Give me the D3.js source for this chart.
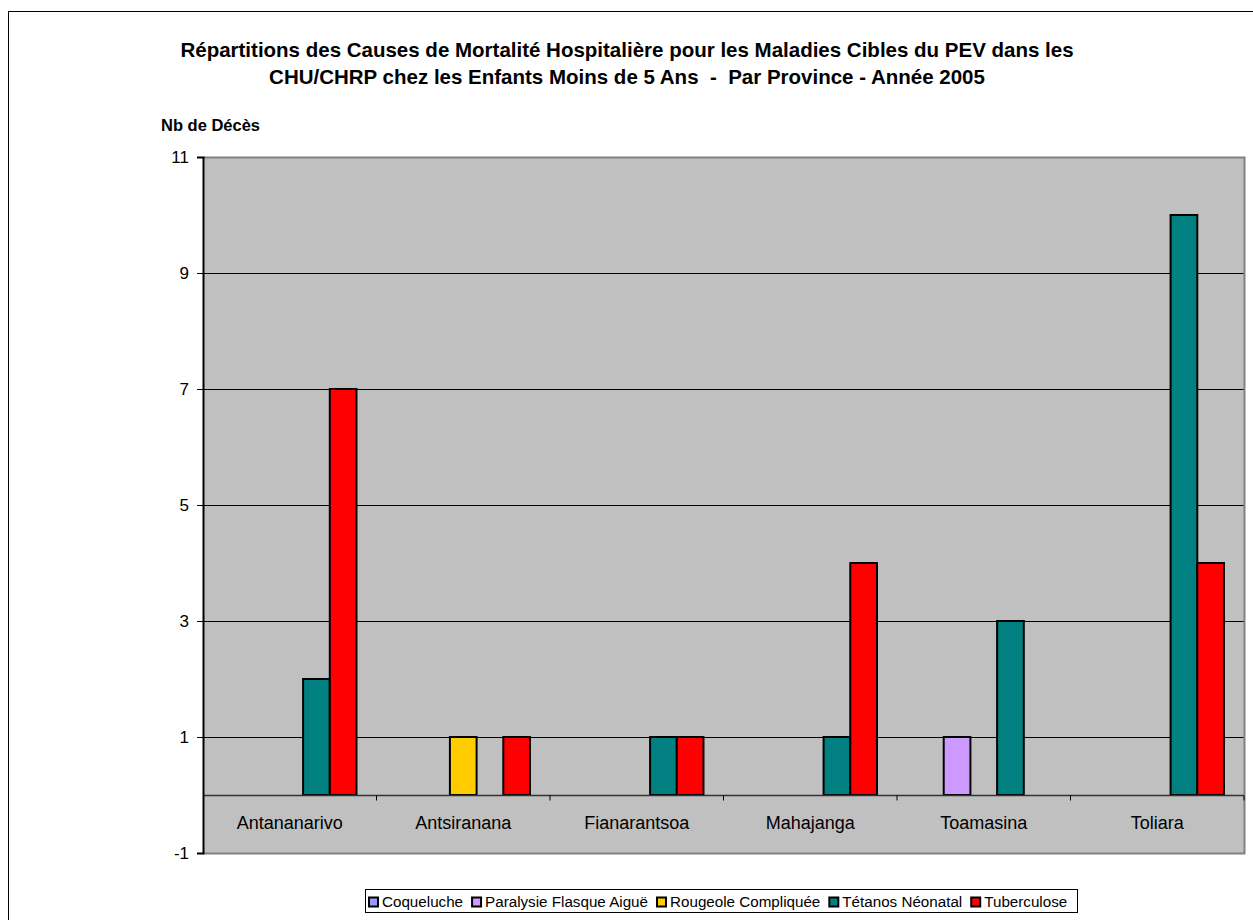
<!DOCTYPE html>
<html>
<head>
<meta charset="utf-8">
<script src="https://cdn.jsdelivr.net/npm/d3@7"></script>
<style>
  body { margin: 0; background: #fff; }
  svg { display: block; font-family: "Liberation Sans", Arial, sans-serif; }
</style>
</head>
<body>
<svg id="chart" width="1253" height="920"></svg>
<script>
const provinces = ["Antananarivo", "Antsiranana", "Fianarantsoa", "Mahajanga", "Toamasina", "Toliara"];
const seriesNames = ["Coqueluche", "Paralysie Flasque Aiguë", "Rougeole Compliquée", "Tétanos Néonatal", "Tuberculose"];
const seriesColors = ["#9999FF", "#CC99FF", "#FFCC00", "#008080", "#FF0000"];
const coqueluche = [0, 0, 0, 0, 0, 0];
const paralysie = [0, 0, 0, 0, 1, 0];
const rougeole = [0, 1, 0, 0, 0, 0];
const tetanos = [2, 0, 1, 1, 3, 10];
const tuberculose = [7, 1, 1, 4, 0, 4];
const yTicks = [-1, 1, 3, 5, 7, 9, 11];
const titleLines = [
  "Répartitions des Causes de Mortalité Hospitalière pour les Maladies Cibles du PEV dans les",
  "CHU/CHRP chez les Enfants Moins de 5 Ans  -  Par Province - Année 2005"
];
const yAxisTitle = "Nb de Décès";

const allSeries = [coqueluche, paralysie, rougeole, tetanos, tuberculose];
const svg = d3.select("#chart");

// outer frame
svg.append("rect").attr("x", 8.5).attr("y", 11.5).attr("width", 1260).attr("height", 930)
  .attr("fill", "none").attr("stroke", "#000").attr("stroke-width", 1);

const L = 203, R = 1244, T = 157, B = 853;
const x0 = d3.scaleBand().domain(provinces).range([L, R]).paddingInner(0).paddingOuter(0);
const x1 = d3.scaleBand().domain(seriesNames).range([0, x0.bandwidth()]).paddingInner(0).paddingOuter(0.75);
const y = d3.scaleLinear().domain([-1, 11]).range([B, T]);

// plot area
svg.append("rect").attr("x", L).attr("y", T).attr("width", R - L).attr("height", B - T)
  .attr("fill", "#C0C0C0");

// gridlines
svg.append("g").selectAll("line").data(yTicks.filter(d => d > -1 && d < 11)).join("line")
  .attr("x1", L).attr("x2", R).attr("y1", d => Math.round(y(d)) + 0.5).attr("y2", d => Math.round(y(d)) + 0.5)
  .attr("stroke", "#000").attr("stroke-width", 1);

// border top/right/bottom gray
svg.append("path")
  .attr("d", `M${L},${T + 0.5}H${R + 0.5}V${B + 0.5}H${L}`)
  .attr("fill", "none").attr("stroke", "#808080").attr("stroke-width", 2);

// bars
const bars = [];
provinces.forEach((p, i) => {
  allSeries.forEach((s, j) => {
    if (s[i] > 0) bars.push({ p, name: seriesNames[j], v: s[i], c: seriesColors[j] });
  });
});
svg.append("g").selectAll("rect").data(bars).join("rect")
  .attr("x", d => x0(d.p) + x1(d.name))
  .attr("y", d => y(d.v))
  .attr("width", x1.bandwidth())
  .attr("height", d => y(0) - y(d.v))
  .attr("fill", d => d.c)
  .attr("stroke", "#000").attr("stroke-width", 2);

// category axis at 0
const xAxis = svg.append("g").attr("transform", `translate(0,${Math.round(y(0)) + 0.5})`);
xAxis.append("line").attr("x1", L).attr("x2", R).attr("stroke", "#333").attr("stroke-width", 1.5);
xAxis.selectAll("line.tk").data(provinces.slice(1).concat(["end"])).join("line").attr("class", "tk")
  .attr("x1", d => d === "end" ? R : x0(d)).attr("x2", d => d === "end" ? R : x0(d))
  .attr("y1", 0).attr("y2", 5).attr("stroke", "#000");
xAxis.selectAll("text").data(provinces).join("text")
  .attr("x", d => x0(d) + x0.bandwidth() / 2).attr("y", 33)
  .attr("text-anchor", "middle").attr("font-size", 18).attr("fill", "#000").text(d => d);

// y axis
const yAxis = svg.append("g").attr("transform", `translate(${L},0)`)
  .call(d3.axisLeft(y).tickValues(yTicks).tickSize(6).tickPadding(8).tickFormat(d => String(d)));
yAxis.select(".domain").attr("stroke", "#000").attr("stroke-width", 2);
yAxis.selectAll(".tick line").attr("stroke", "#000");
yAxis.selectAll(".tick text").attr("font-size", 17).attr("fill", "#000")
  .attr("font-family", "'Liberation Sans', Arial, sans-serif");

// title
svg.append("g").selectAll("text").data(titleLines).join("text")
  .attr("x", 627).attr("y", (d, i) => 57 + i * 27)
  .attr("text-anchor", "middle").attr("font-size", 20.5).attr("font-weight", "bold").attr("fill", "#000")
  .style("white-space", "pre")
  .text(d => d);

svg.append("text").attr("x", 161).attr("y", 131).attr("font-size", 16.5).attr("font-weight", "bold")
  .attr("fill", "#000").text(yAxisTitle);

// legend
const lg = svg.append("g");
lg.append("rect").attr("x", 365.5).attr("y", 889.5).attr("width", 712).attr("height", 23)
  .attr("fill", "#fff").attr("stroke", "#000");
let lx = 369;
seriesNames.forEach((n, i) => {
  lg.append("rect").attr("x", lx).attr("y", 897.5).attr("width", 9).attr("height", 9)
    .attr("fill", seriesColors[i]).attr("stroke", "#000").attr("stroke-width", 2);
  const t = lg.append("text").attr("x", lx + 13).attr("y", 907).attr("font-size", 15.2).attr("fill", "#000").text(n);
  lx += 13 + t.node().getComputedTextLength() + 9;
});
</script>
</body>
</html>
